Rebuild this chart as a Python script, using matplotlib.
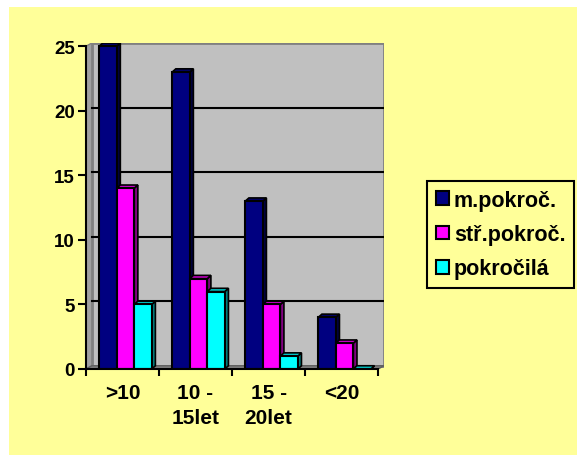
import matplotlib.pyplot as plt
from matplotlib.patches import Polygon, Rectangle, Patch

plt.rcParams['font.family'] = ['Liberation Sans', 'DejaVu Sans']
plt.rcParams['font.weight'] = 'bold'

categories = ['>10', '10 -\n15let', '15 -\n20let', '<20']
series_names = ['m.pokroč.', 'stř.pokroč.', 'pokročilá']
m_pokroc = [25, 23, 13, 4]
str_pokroc = [14, 7, 5, 2]
pokrocila = [5, 6, 1, 0]

front_colors = ['#000080', '#FF00FF', '#00FFFF']
top_colors = ['#000066', '#CC00CC', '#00CCCC']
side_colors = ['#000040', '#800080', '#008080']

# depth of the 3D walls and bars, in data units
wall_dx, wall_dy = 0.08, 0.25
bar_dx, bar_dy = 0.05, 0.25
bar_w = 0.24
ymax = 25

fig = plt.figure(figsize=(5.78, 4.56), dpi=100)
fig.patch.set_facecolor('white')
fig.patches.append(Rectangle((9 / 578, 0), 568 / 578, 448 / 456,
                             transform=fig.transFigure, facecolor='#FFFF99',
                             edgecolor='none', zorder=-1))

ax = fig.add_axes([86 / 578, 86 / 456, 298 / 578, 326 / 456])
ax.set_facecolor('none')
ax.set_xlim(0, len(categories) + wall_dx)
ax.set_ylim(0, ymax + wall_dy)

n = len(categories)
# back wall, left wall and floor
ax.add_patch(Rectangle((wall_dx, wall_dy), n, ymax, facecolor='#C0C0C0',
                       edgecolor='#808080', linewidth=2, zorder=1))
ax.add_patch(Polygon([(0, 0), (wall_dx, wall_dy), (wall_dx, ymax + wall_dy), (0, ymax)],
                     facecolor='#A0A0A0', edgecolor='#808080', linewidth=1, zorder=1))
ax.add_patch(Polygon([(0, 0), (n, 0), (n + wall_dx, wall_dy), (wall_dx, wall_dy)],
                     facecolor='#808080', edgecolor='#606060', linewidth=1, zorder=1))
for v in range(5, ymax, 5):
    ax.plot([wall_dx, n + wall_dx], [v + wall_dy, v + wall_dy], color='black',
            linewidth=1.5, zorder=2)

for k, vals in enumerate([m_pokroc, str_pokroc, pokrocila]):
    for i, v in enumerate(vals):
        x0 = i + 0.18 + k * bar_w
        x1 = x0 + bar_w
        ax.add_patch(Polygon([(x1, 0), (x1 + bar_dx, bar_dy), (x1 + bar_dx, v + bar_dy), (x1, v)],
                             facecolor=side_colors[k], edgecolor='black', linewidth=1.2, zorder=3))
        ax.add_patch(Polygon([(x0, v), (x1, v), (x1 + bar_dx, v + bar_dy), (x0 + bar_dx, v + bar_dy)],
                             facecolor=top_colors[k], edgecolor='black', linewidth=1.2, zorder=3))
    ax.bar([i + 0.18 + k * bar_w for i in range(n)], vals, width=bar_w, align='edge',
           color=front_colors[k], edgecolor='black', linewidth=1.5, zorder=4)

for s in ['top', 'right']:
    ax.spines[s].set_visible(False)
ax.spines['left'].set_bounds(0, ymax)
ax.spines['bottom'].set_bounds(0, n)
ax.spines['left'].set_linewidth(1.5)
ax.spines['bottom'].set_linewidth(1.5)
ax.spines['left'].set_zorder(5)
ax.spines['bottom'].set_zorder(5)

ax.set_yticks(range(0, ymax + 1, 5))
ax.tick_params(axis='y', direction='out', length=6, width=1.5, labelsize=13.5, pad=2)
ax.set_xticks(range(n + 1))
ax.set_xticklabels([])
ax.set_xticks([i + 0.5 for i in range(n)], minor=True)
ax.set_xticklabels(categories, minor=True, fontsize=15, fontweight='bold', linespacing=1.4)
ax.tick_params(axis='x', which='major', direction='out', length=5, width=1.5)
ax.tick_params(axis='x', which='minor', length=0, pad=10)

handles = [Patch(facecolor=c, edgecolor='black', linewidth=1.5) for c in front_colors]
leg = fig.legend(handles, series_names, loc='upper left',
                 bbox_to_anchor=(427 / 578, 1 - 182 / 456),
                 prop={'size': 15.5, 'weight': 'bold'}, handlelength=0.6,
                 handleheight=0.6, handletextpad=0.25, labelspacing=0.62,
                 borderpad=0.4, borderaxespad=0, fancybox=False, framealpha=1,
                 facecolor='#FFFF99', edgecolor='black')
leg.get_frame().set_linewidth(1.5)

fig.savefig('out.png', dpi=100)
